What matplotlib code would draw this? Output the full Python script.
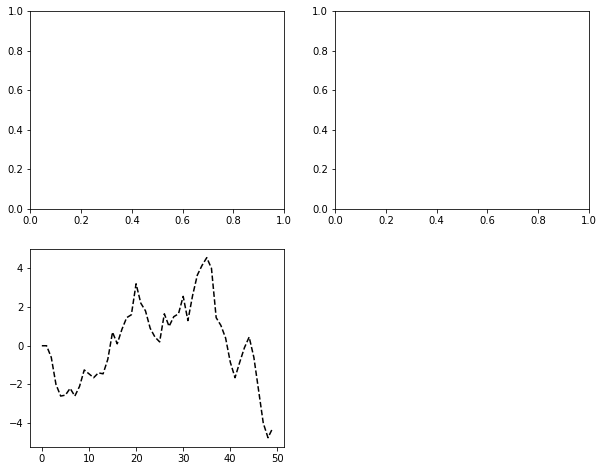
import matplotlib
matplotlib.use("Agg")
import matplotlib.pyplot as plt
import numpy as np

# Random-walk series shown in the lower-left panel
x_values = list(range(50))
walk_values = [0.0, 0.0, -0.6, -2.0, -2.6, -2.55, -2.2, -2.6, -2.1, -1.25,
               -1.45, -1.65, -1.4, -1.45, -0.7, 0.7, 0.1, 0.85, 1.45, 1.6,
               3.2, 2.2, 1.8, 0.9, 0.45, 0.2, 1.65, 1.0, 1.5, 1.65,
               2.55, 1.3, 2.6, 3.65, 4.15, 4.55, 4.0, 1.45, 1.05, 0.4,
               -0.85, -1.65, -0.85, -0.1, 0.45, -0.6, -2.3, -4.0, -4.75, -4.25]

fig = plt.figure(figsize=(603 / 72, 470 / 72), dpi=72)
ax1 = fig.add_subplot(2, 2, 1)
ax2 = fig.add_subplot(2, 2, 2)
ax3 = fig.add_subplot(2, 2, 3)
ax3.plot(x_values, walk_values, 'k--')

fig.subplots_adjust(left=30.3 / 603, right=589 / 603,
                    top=1 - 11 / 470, bottom=1 - 446.7 / 470,
                    wspace=0.2, hspace=0.2)
fig.savefig("out.png", dpi=72)
